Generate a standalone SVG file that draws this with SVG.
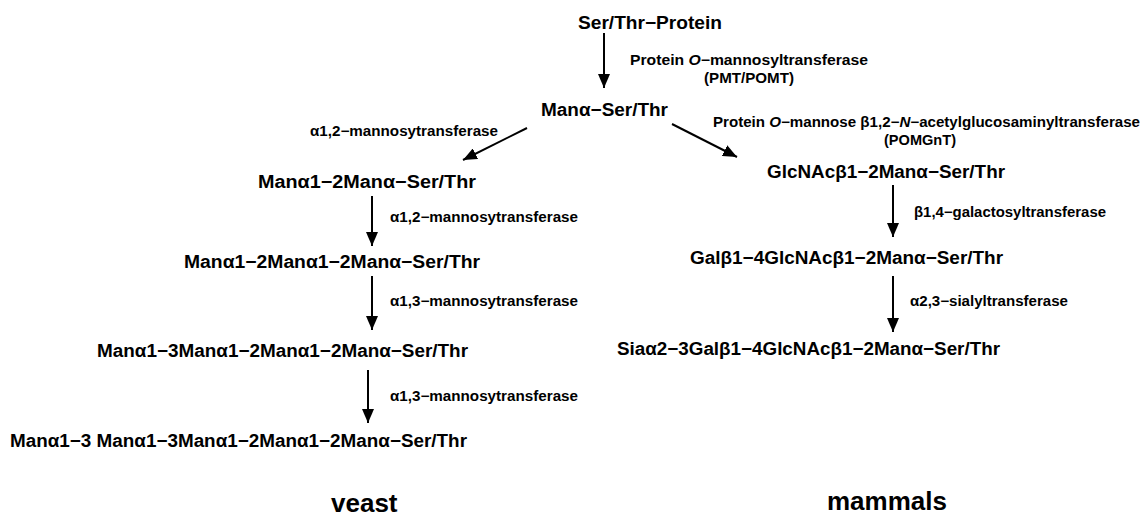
<svg xmlns="http://www.w3.org/2000/svg" width="1142" height="519" viewBox="0 0 1142 519">
<style>
.n{font-family:"Liberation Sans",Arial,sans-serif;font-size:18px;font-weight:bold;fill:#000}
.e{font-family:"Liberation Sans",Arial,sans-serif;font-size:14px;font-weight:bold;fill:#000}
.t{font-family:"Liberation Sans",Arial,sans-serif;font-size:26px;font-weight:bold;fill:#000}
.c{stroke:#000;stroke-width:2;fill:none}
</style>
<defs>
<marker id="ah" viewBox="0 0 14 12" refX="14" refY="6" markerWidth="14" markerHeight="12" markerUnits="userSpaceOnUse" orient="auto">
<path d="M0,0 L14,6 L0,12 z" fill="#000"/>
</marker>
</defs>
<rect width="1142" height="519" fill="#fff"/>
<g id="connectors">
<line class="c" x1="604" y1="33" x2="604" y2="88" marker-end="url(#ah)"/>
<line class="c" x1="527" y1="128" x2="463" y2="160" marker-end="url(#ah)"/>
<line class="c" x1="672" y1="124" x2="737" y2="157" marker-end="url(#ah)"/>
<line class="c" x1="372" y1="196" x2="372" y2="246" marker-end="url(#ah)"/>
<line class="c" x1="372" y1="276" x2="372" y2="330" marker-end="url(#ah)"/>
<line class="c" x1="368" y1="370" x2="368" y2="423" marker-end="url(#ah)"/>
<line class="c" x1="893" y1="185" x2="893" y2="237" marker-end="url(#ah)"/>
<line class="c" x1="893" y1="276" x2="893" y2="332" marker-end="url(#ah)"/>
</g>
<g id="enzymes">
<text class="e" x="630" y="65" textLength="238" lengthAdjust="spacingAndGlyphs">Protein <tspan font-style="italic">O</tspan>−mannosyltransferase</text>
<text class="e" x="749" y="83" text-anchor="middle" textLength="90" lengthAdjust="spacingAndGlyphs">(PMT/POMT)</text>
<text class="e" x="310" y="136" textLength="188" lengthAdjust="spacingAndGlyphs">α1,2−mannosytransferase</text>
<text class="e" x="713" y="127" textLength="427" lengthAdjust="spacingAndGlyphs">Protein <tspan font-style="italic">O</tspan>−mannose β1,2−<tspan font-style="italic">N</tspan>−acetylglucosaminyltransferase</text>
<text class="e" x="920" y="145" text-anchor="middle" textLength="72" lengthAdjust="spacingAndGlyphs">(POMGnT)</text>
<text class="e" x="390" y="222" textLength="188" lengthAdjust="spacingAndGlyphs">α1,2−mannosytransferase</text>
<text class="e" x="390" y="306" textLength="188" lengthAdjust="spacingAndGlyphs">α1,3−mannosytransferase</text>
<text class="e" x="390" y="401" textLength="188" lengthAdjust="spacingAndGlyphs">α1,3−mannosytransferase</text>
<text class="e" x="914" y="217" textLength="192" lengthAdjust="spacingAndGlyphs">β1,4−galactosyltransferase</text>
<text class="e" x="910" y="306" textLength="158" lengthAdjust="spacingAndGlyphs">α2,3−sialyltransferase</text>
</g>
<g id="n-ser-thr-protein"><text class="n" x="578" y="29" textLength="144" lengthAdjust="spacingAndGlyphs">Ser/Thr−Protein</text></g>
<g id="n-man"><text class="n" x="541" y="116" textLength="127" lengthAdjust="spacingAndGlyphs">Manα−Ser/Thr</text></g>
<g id="n-man2"><text class="n" x="258" y="188" textLength="218" lengthAdjust="spacingAndGlyphs">Manα1−2Manα−Ser/Thr</text></g>
<g id="n-man3"><text class="n" x="184" y="268" textLength="296" lengthAdjust="spacingAndGlyphs">Manα1−2Manα1−2Manα−Ser/Thr</text></g>
<g id="n-man4"><text class="n" x="97" y="357" textLength="371" lengthAdjust="spacingAndGlyphs">Manα1−3Manα1−2Manα1−2Manα−Ser/Thr</text></g>
<g id="n-man5"><text class="n" x="10" y="447" textLength="457" lengthAdjust="spacingAndGlyphs">Manα1−3 Manα1−3Manα1−2Manα1−2Manα−Ser/Thr</text></g>
<g id="n-glcnac"><text class="n" x="767" y="178" textLength="238" lengthAdjust="spacingAndGlyphs">GlcNAcβ1−2Manα−Ser/Thr</text></g>
<g id="n-gal"><text class="n" x="690" y="264" textLength="313" lengthAdjust="spacingAndGlyphs">Galβ1−4GlcNAcβ1−2Manα−Ser/Thr</text></g>
<g id="n-sia"><text class="n" x="617" y="355" textLength="383" lengthAdjust="spacingAndGlyphs">Siaα2−3Galβ1−4GlcNAcβ1−2Manα−Ser/Thr</text></g>
<g id="title-yeast"><text class="t" x="331" y="512">veast</text></g>
<g id="title-mammals"><text class="t" x="827" y="510">mammals</text></g>
</svg>
